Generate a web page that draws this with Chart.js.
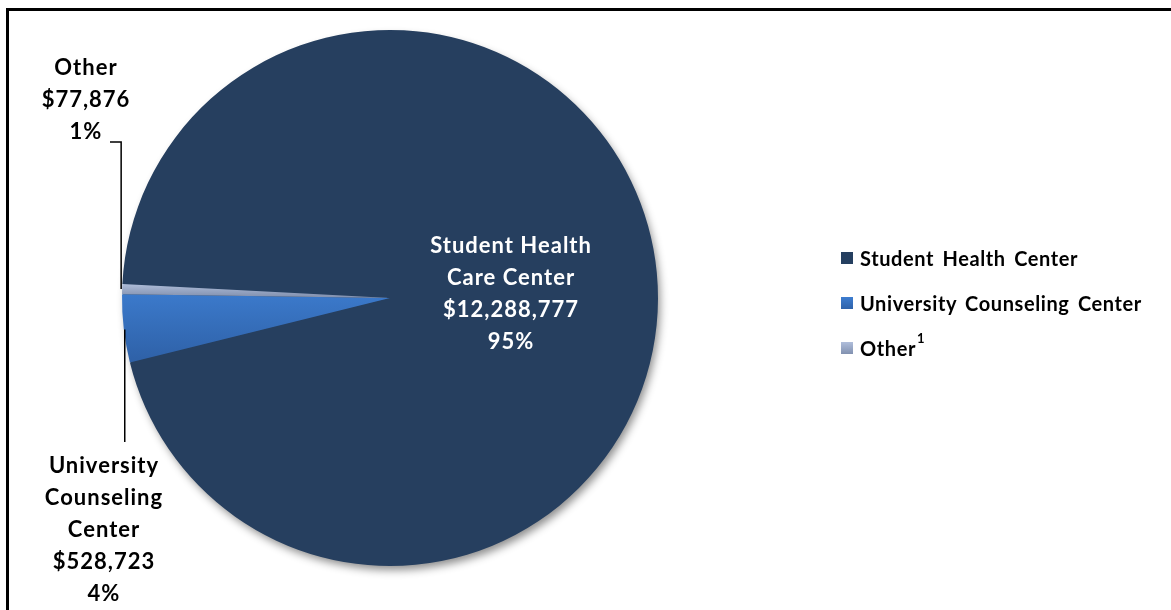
<!DOCTYPE html>
<html>
<head>
<meta charset="utf-8">
<script src="https://cdn.jsdelivr.net/npm/chart.js@4.4.1/dist/chart.umd.min.js"></script>
<style>
  html, body { margin: 0; padding: 0; background: #fff; overflow: hidden; }
  #wrap { position: relative; width: 1171px; height: 610px; }
  #frame { position: absolute; left: 6px; top: 8px; width: 1200px; height: 700px; border: 3px solid #000; box-sizing: border-box; }
  #c { position: absolute; left: 0; top: 0; }
  #legend { position: absolute; left: 841px; top: 235px; font-family: Lato, "Open Sans", sans-serif; font-weight: 700; font-size: 20px; letter-spacing: 0.6px; color: #000; }
  .item { display: flex; align-items: center; height: 45px; white-space: pre; word-spacing: 3px; }
  .sw { width: 12px; height: 12px; margin-right: 7px; }
  sup { font-size: 13px; position: relative; top: -5px; margin-left: 1px; }
</style>
</head>
<body>
<div id="wrap">
  <div id="frame"></div>
  <canvas id="c" width="1171" height="610"></canvas>
  <div id="legend"></div>
</div>
<script>
const categories = ['Student Health Center', 'University Counseling Center', 'Other'];
const amounts = [12288777, 528723, 77876];
const amountLabels = ['$12,288,777', '$528,723', '$77,876'];
const percentLabels = ['95%', '4%', '1%'];
const sliceLabelLines = [['Student Health', 'Care Center'], ['University', 'Counseling', 'Center'], ['Other']];
const legendNotes = ['', '', '1'];

const FONT = 'bold 22px Lato, "Open Sans", sans-serif';

function gradFor(index, chart) {
  const a = chart.chartArea;
  const solid = ['#263f5f', '#3a74c2', '#a2b1cd'];
  if (!a) return solid[index];
  const cy = (a.top + a.bottom) / 2;
  if (index === 1) {
    const g = chart.ctx.createLinearGradient(0, cy - 14, 0, cy + 66);
    g.addColorStop(0, '#3d7dd0');
    g.addColorStop(1, '#2e60a6');
    return g;
  }
  if (index === 2) {
    const g2 = chart.ctx.createLinearGradient(0, cy - 15, 0, cy - 2);
    g2.addColorStop(0, '#b2c0dc');
    g2.addColorStop(1, '#8594b2');
    return g2;
  }
  return solid[0];
}

const shadowPlugin = {
  id: 'pieShadow',
  beforeDatasetsDraw(chart) {
    const arc = chart.getDatasetMeta(0).data[0];
    if (!arc) return;
    const ctx = chart.ctx;
    ctx.save();
    ctx.shadowColor = 'rgba(0,0,0,0.45)';
    ctx.shadowBlur = 9;
    ctx.shadowOffsetX = 3;
    ctx.shadowOffsetY = 5;
    ctx.fillStyle = '#263f5f';
    ctx.beginPath();
    ctx.arc(arc.x, arc.y, arc.outerRadius - 1, 0, Math.PI * 2);
    ctx.fill();
    ctx.restore();
  }
};

function edgePoint(arc, frac) {
  const mid = (arc.startAngle + arc.endAngle) / 2;
  return { x: arc.x + Math.cos(mid) * arc.outerRadius * frac, y: arc.y + Math.sin(mid) * arc.outerRadius * frac };
}

function drawLines(ctx, lines, cx, firstY, step) {
  lines.forEach((t, i) => ctx.fillText(t, cx, firstY + i * step));
}

const labelPlugin = {
  id: 'sliceLabels',
  afterDatasetsDraw(chart) {
    const meta = chart.getDatasetMeta(0);
    const ctx = chart.ctx;
    ctx.save();
    ctx.font = FONT;
    ctx.letterSpacing = '1px';
    ctx.textAlign = 'center';
    ctx.textBaseline = 'middle';
    const step = 32;

    // Student Health Center (inside)
    const a0 = meta.data[0];
    const p0 = edgePoint(a0, 0.45);
    ctx.fillStyle = '#ffffff';
    drawLines(ctx, [...sliceLabelLines[0], amountLabels[0], percentLabels[0]], p0.x + 1, p0.y - 41, step);

    ctx.fillStyle = '#000000';
    ctx.strokeStyle = '#000000';
    ctx.lineWidth = 1.5;

    // Other (outside, upper-left)
    const a2 = meta.data[2];
    const e2 = edgePoint(a2, 1);
    drawLines(ctx, [...sliceLabelLines[2], amountLabels[2], percentLabels[2]], a2.x - 304, a2.y - 230, step);
    ctx.beginPath();
    ctx.moveTo(a2.x - 280, a2.y - 156);
    ctx.lineTo(e2.x - 1, a2.y - 156);
    ctx.lineTo(e2.x - 1, e2.y);
    ctx.stroke();

    // University Counseling Center (outside, lower-left)
    const a1 = meta.data[1];
    const e1 = edgePoint(a1, 1);
    drawLines(ctx, [...sliceLabelLines[1], amountLabels[1], percentLabels[1]], a1.x - 286, a1.y + 168, step);
    ctx.beginPath();
    ctx.moveTo(e1.x + 1, e1.y + 1);
    ctx.lineTo(e1.x + 1, a1.y + 144);
    ctx.stroke();

    ctx.restore();
  }
};

new Chart(document.getElementById('c'), {
  type: 'pie',
  data: {
    labels: categories,
    datasets: [{
      data: amounts,
      backgroundColor: (ctx) => gradFor(ctx.dataIndex, ctx.chart),
      borderWidth: 0
    }]
  },
  options: {
    responsive: false,
    animation: false,
    rotation: 273,
    layout: { padding: { left: 122, top: 30, right: 513, bottom: 44 } },
    plugins: { legend: { display: false }, tooltip: { enabled: false } }
  },
  plugins: [shadowPlugin, labelPlugin]
});

const legendColors = ['#253f60', 'linear-gradient(#3d7dd0,#2e62aa)', 'linear-gradient(#b0bedb,#8191b0)'];
const legend = document.getElementById('legend');
categories.forEach((name, i) => {
  const row = document.createElement('div');
  row.className = 'item';
  const sw = document.createElement('span');
  sw.className = 'sw';
  sw.style.background = legendColors[i];
  row.appendChild(sw);
  const txt = document.createElement('span');
  txt.textContent = name;
  if (legendNotes[i]) {
    const s = document.createElement('sup');
    s.textContent = legendNotes[i];
    txt.appendChild(s);
  }
  row.appendChild(txt);
  legend.appendChild(row);
});
</script>
</body>
</html>
